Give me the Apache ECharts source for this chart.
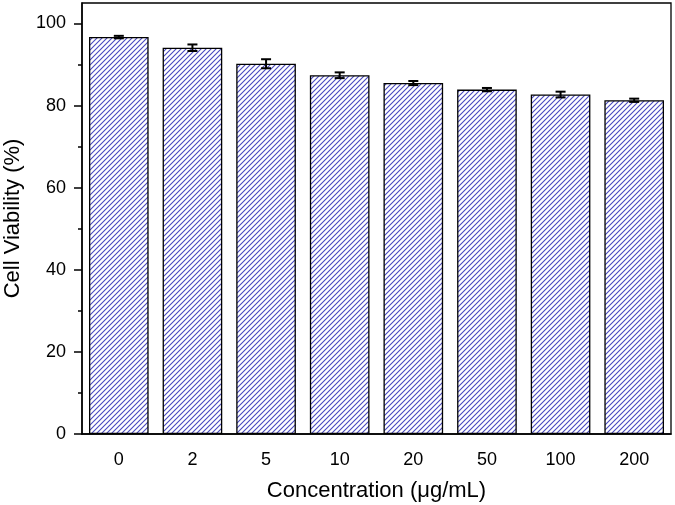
<!DOCTYPE html>
<html><head><meta charset="utf-8">
<script src="https://cdn.jsdelivr.net/npm/echarts@6/dist/echarts.min.js"></script>
<style>html,body{margin:0;padding:0;background:#fff}#c{width:675px;height:505px}</style>
</head><body><div id="c"></div>
<script>
const categories = ['0','2','5','10','20','50','100','200'];
const viability = [96.7, 94.1, 90.2, 87.4, 85.5, 83.9, 82.7, 81.3];
const errors = [0.3, 0.8, 1.1, 0.7, 0.5, 0.4, 0.7, 0.4];
const yMajorTicks = [0, 20, 40, 60, 80, 100];
const yMinorTicks = [10, 30, 50, 70, 90];

function hatch() {
  const s = 5, c = document.createElement('canvas');
  c.width = s; c.height = s;
  const g = c.getContext('2d');
  g.fillStyle = '#fff'; g.fillRect(0, 0, s, s);
  g.strokeStyle = '#4848c0'; g.lineWidth = 1.1;
  g.beginPath();
  g.moveTo(-1, s + 1); g.lineTo(s + 1, -1);
  g.moveTo(-1, 1); g.lineTo(1, -1);
  g.moveTo(s - 1, s + 1); g.lineTo(s + 1, s - 1);
  g.stroke();
  return c;
}

const font = 'Liberation Sans, Arial, sans-serif';
const chart = echarts.init(document.getElementById('c'), null, {renderer: 'canvas'});
chart.setOption({
  animation: false,
  grid: {left: 82, right: 4, top: 3, bottom: 71, show: true, borderColor: '#000', borderWidth: 1.3, containLabel: false, outerBoundsMode: 'none'},
  xAxis: [{
    type: 'category', data: categories, position: 'bottom',
    name: 'Concentration (\u03bcg/mL)', nameLocation: 'middle', nameGap: 46,
    nameTextStyle: {fontFamily: font, fontSize: 22, color: '#000'},
    axisLine: {lineStyle: {color: '#000', width: 1.5}},
    axisTick: {alignWithLabel: true, length: 8, lineStyle: {color: '#000', width: 1.5}},
    axisLabel: {fontFamily: font, fontSize: 18, color: '#000', margin: 17}
  }, {
    type: 'category', data: categories, position: 'bottom',
    axisLine: {show: false},
    axisTick: {alignWithLabel: false, length: 4, lineStyle: {color: '#000', width: 1.5}},
    axisLabel: {show: false}
  }],
  yAxis: [{
    type: 'value', min: 0, max: 105,
    name: 'Cell Viability (%)', nameLocation: 'middle', nameGap: 58,
    nameTextStyle: {fontFamily: font, fontSize: 22, color: '#000'},
    splitLine: {show: false},
    axisLine: {show: true, lineStyle: {color: '#000', width: 1.5}},
    axisTick: {show: true, length: 8, customValues: yMajorTicks, lineStyle: {color: '#000', width: 1.5}},
    axisLabel: {fontFamily: font, fontSize: 18, color: '#000', margin: 16, customValues: yMajorTicks}
  }, {
    type: 'value', min: 0, max: 105, position: 'left',
    splitLine: {show: false},
    axisLine: {show: false},
    axisTick: {show: true, length: 4, customValues: yMinorTicks, lineStyle: {color: '#000', width: 1.5}},
    axisLabel: {show: false}
  }],
  series: [{
    type: 'bar', data: viability, barCategoryGap: '19%',
    itemStyle: {color: {image: hatch(), repeat: 'repeat'}, borderColor: '#000', borderWidth: 1.3}
  }, {
    type: 'custom', z: 5,
    data: categories.map((c, i) => [i, viability[i], errors[i]]),
    renderItem: function (params, api) {
      const x = api.value(0), v = api.value(1), e = api.value(2);
      const hi = api.coord([x, v + e]), lo = api.coord([x, v - e]);
      const w = 5;
      const st = {stroke: '#000', lineWidth: 2};
      return {type: 'group', children: [
        {type: 'line', shape: {x1: hi[0], y1: hi[1], x2: lo[0], y2: lo[1]}, style: st},
        {type: 'line', shape: {x1: hi[0] - w, y1: hi[1], x2: hi[0] + w, y2: hi[1]}, style: st},
        {type: 'line', shape: {x1: lo[0] - w, y1: lo[1], x2: lo[0] + w, y2: lo[1]}, style: st}
      ]};
    }
  }]
});
</script></body></html>
